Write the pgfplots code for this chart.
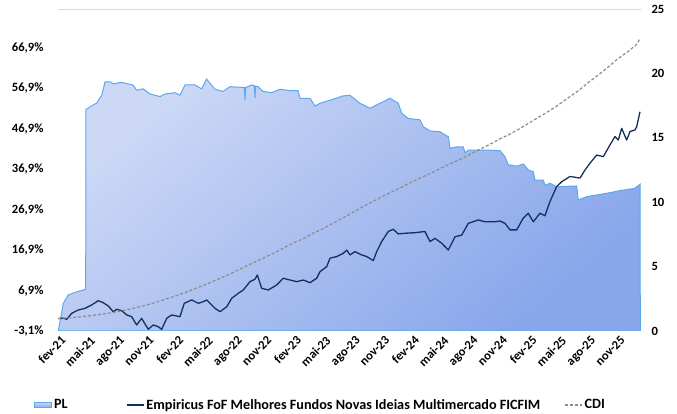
\documentclass[border=0pt]{standalone}
\usepackage{pgfplots}
\pgfplotsset{compat=1.18}
\usepackage{fontspec}
\setmainfont{Carlito}
\definecolor{plline}{HTML}{5AA8F0}
\definecolor{pltop}{HTML}{CCD8F5}
\definecolor{plbot}{HTML}{88A6EB}
\definecolor{fund}{HTML}{14305A}
\definecolor{cdi}{HTML}{8C8C8C}
\definecolor{gridc}{HTML}{D9D9D9}
\pgfplotstableread{
m v
0.00 0
0.03 0
0.54 2.15
1.05 2.80
1.73 3.00
2.58 3.18
2.82 3.25
2.85 17.2
3.26 17.4
3.94 17.7
4.45 18.3
4.79 19.35
5.30 19.35
5.60 19.2
6.49 19.3
7.64 19.1
8.01 18.7
8.66 18.8
9.37 18.4
10.39 18.2
10.90 18.4
11.91 18.5
12.42 18.3
12.93 19.1
13.95 19.1
14.63 18.8
15.14 19.55
15.99 18.77
16.80 18.6
17.52 18.97
18.98 18.9
19.04 17.9
19.10 18.9
19.72 19.1
20.00 19.05
20.06 18.1
20.12 19.0
20.37 18.97
20.88 18.6
21.76 18.5
22.61 18.77
23.63 18.66
24.44 18.66
24.64 18.07
25.66 18.07
26.17 17.47
26.68 17.68
28.00 17.99
29.02 18.25
29.74 18.3
30.24 17.99
30.75 17.68
31.77 17.29
32.79 17.68
33.81 18.07
34.65 17.68
35.00 16.9
35.67 16.5
36.86 16.4
37.20 15.86
37.88 15.53
38.90 15.47
39.75 15.08
39.92 14.18
40.60 14.3
41.27 14.3
41.45 13.84
41.78 14.05
43.66 14.05
45.01 14.0
45.52 13.53
45.86 12.9
46.71 12.8
47.38 12.97
47.89 12.5
48.40 12.37
48.57 11.72
49.42 11.72
49.59 11.3
50.10 11.47
50.78 11.2
52.82 11.26
52.98 10.17
53.84 10.43
54.86 10.56
56.21 10.74
57.23 10.9
58.76 11.08
59.27 11.4
59.30 0
}\pltable
\pgfplotstableread{
m v
0.03 0.0
0.54 0.04
0.89 -0.2
1.40 1.28
2.07 2.1
2.75 2.5
3.43 3.33
4.10 4.4
4.61 3.9
5.12 3.08
5.63 1.67
5.98 2.26
6.49 1.92
7.00 0.86
7.50 0.44
8.01 -1.6
8.52 0.04
8.86 -1.37
9.20 -2.68
9.70 -1.6
10.21 -2.04
10.56 -2.68
11.07 0.04
11.58 0.86
12.09 0.6
12.42 0.44
12.86 3.75
13.62 4.57
14.29 3.75
14.80 4.15
15.14 4.57
15.99 2.5
16.50 1.67
17.18 2.9
17.69 4.99
18.36 6.22
18.87 7.04
19.55 9.1
20.06 9.7
20.30 10.75
20.74 7.46
21.42 7.04
22.27 8.28
22.94 9.94
23.63 9.5
24.31 9.1
24.98 9.5
25.66 8.85
26.34 9.94
26.68 11.57
27.36 12.8
27.70 14.9
28.38 15.3
29.05 16.1
29.40 16.9
29.74 15.7
30.24 16.5
30.93 15.7
31.44 15.3
32.11 14.3
32.45 16.5
32.96 19.0
33.64 21.5
34.14 22.05
34.65 20.9
35.34 21.06
36.35 21.2
37.37 21.5
37.88 19.0
38.39 19.8
39.07 18.6
39.75 16.9
40.43 20.2
41.11 20.6
41.78 23.5
42.80 24.35
43.48 23.9
44.50 23.9
45.01 24.1
45.52 23.5
46.03 21.9
46.71 21.9
47.38 24.8
47.89 26.0
48.40 23.9
49.08 26.0
49.59 25.4
50.10 28.9
50.78 32.6
51.29 33.8
52.14 35.1
53.16 34.7
53.67 36.7
54.18 38.4
54.86 40.4
55.53 40.0
56.21 42.9
56.72 44.96
57.06 44.1
57.40 47.0
57.91 44.1
58.25 46.2
58.76 46.6
58.93 47.4
59.27 51.1
}\fundtable
\pgfplotstableread{
m v
0 0
1 0.13
2 0.35
3 0.60
4 0.90
5 1.25
6 1.65
7 2.15
8 2.70
9 3.30
10 4.00
11 4.80
12 5.60
13 6.45
14 7.40
15 8.35
16 9.40
17 10.45
18 11.55
19 12.75
20 13.90
21 15.05
22 16.20
23 17.45
24 18.70
25 19.75
26 21.10
27 22.20
28 23.55
29 24.85
30 26.15
31 27.57
32 28.81
33 30.10
34 31.29
35 32.46
36 33.75
37 34.82
38 35.94
39 37.15
40 38.29
41 39.38
42 40.65
43 41.87
44 43.06
45 44.39
46 45.53
47 46.88
48 48.36
49 49.83
50 51.27
51 52.87
52 54.61
53 56.31
54 58.31
55 60.14
56 62.10
57 64.17
58 65.89
59 67.91
59.27 69.3
}\cditable
\begin{document}
\begin{tikzpicture}[x=1pt,y=1pt]
\useasboundingbox (0,0) rectangle (677,414);
\pgfplotsset{every axis/.append style={
  at={(58pt,83pt)}, anchor=south west,
  width=583pt, height=322pt, scale only axis,
  xmin=0, xmax=59.37,
  major tick length=0pt,
  tick label style={font=\fontsize{12.6}{14}\selectfont\bfseries},
}}
\begin{axis}[
  ymin=0, ymax=25,
  axis y line*=right,
  hide x axis,
  y axis line style={draw=none},
  ytick={0,5,10,15,20,25},
  yticklabels={0,5,10,15,20,25},
  yticklabel style={anchor=west, xshift=7pt},
]
\draw[gridc, line width=0.8pt] (rel axis cs:0,1) -- (rel axis cs:1,1);
\addplot[draw=plline, line width=1pt, top color=pltop, bottom color=plbot, shading angle=40] table[x=m,y=v] {\pltable} -- cycle;
\end{axis}
\begin{axis}[
  ymin=-3.1, ymax=76.5,
  axis y line*=left,
  axis x line*=bottom,
  x axis line style={draw=none},
  y axis line style={draw=none},
  ytick={-3.1,6.9,16.9,26.9,36.9,46.9,56.9,66.9},
  yticklabels={{-3,1\%},{6,9\%},{16,9\%},{26,9\%},{36,9\%},{46,9\%},{56,9\%},{66,9\%}},
  yticklabel style={anchor=east, xshift=-11pt},
  xtick={0,3,...,57},
  xticklabels={fev-21,mai-21,ago-21,nov-21,fev-22,mai-22,ago-22,nov-22,fev-23,mai-23,ago-23,nov-23,fev-24,mai-24,ago-24,nov-24,fev-25,mai-25,ago-25,nov-25},
  xticklabel style={rotate=45, anchor=north east, yshift=-1pt, xshift=2pt},
  legend columns=3,
  legend cell align=left,
  legend style={at={(0,0)}, anchor=west, xshift=-27pt, yshift=-74pt, draw=none, fill=none,
    font=\fontsize{14.2}{16}\selectfont\bfseries,
    /tikz/every even column/.append style={column sep=0pt}},
]
\addlegendimage{area legend, draw=plline, line width=0.8pt, top color=pltop, bottom color=plbot}
\addlegendentry{\makebox[70pt][l]{PL}}
\addplot[fund, line width=1.3pt, line join=round] table[x=m,y=v] {\fundtable};
\addlegendentry{\makebox[416pt][l]{Empiricus FoF Melhores Fundos Novas Ideias Multimercado FICFIM}}
\addplot[cdi, line width=1.2pt, dash pattern=on 3pt off 2pt] table[x=m,y=v] {\cditable};
\addlegendentry{CDI}
\end{axis}
\end{tikzpicture}
\end{document}
